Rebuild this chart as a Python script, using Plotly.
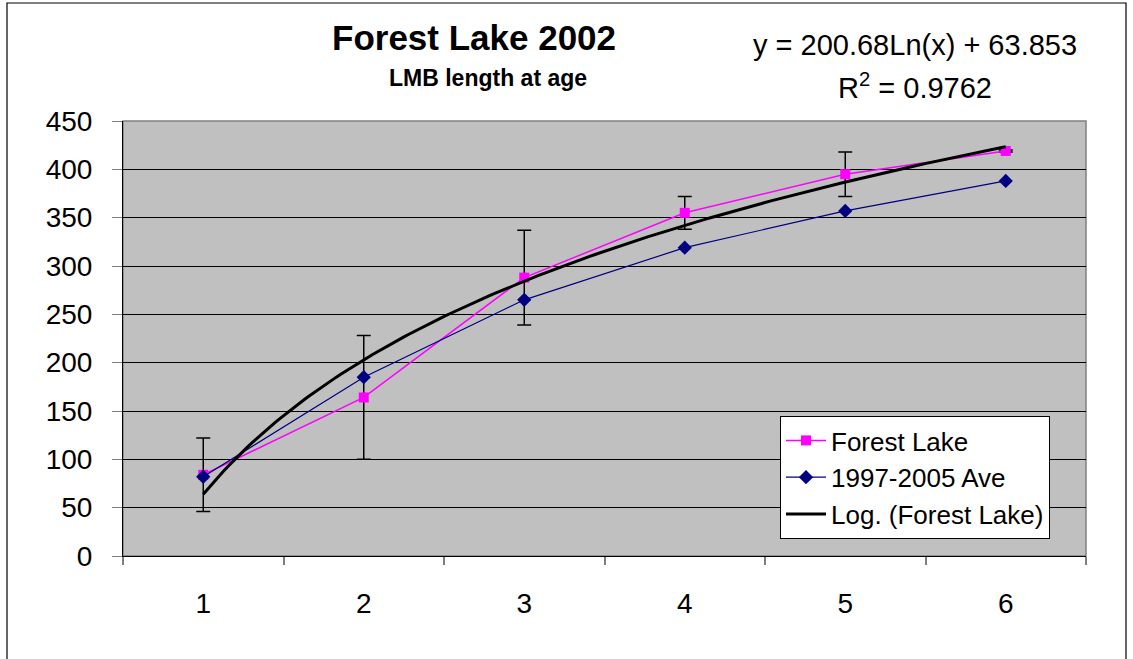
import numpy as np
import plotly.graph_objects as go

# ---------------------------- data ---------------------------- #
ages = [1, 2, 3, 4, 5, 6]
forest_lake = [84, 164, 288, 355, 395, 419]
forest_lake_err = [38, 64, 49, 17, 23, 1]
avg_1997_2005 = [82, 185, 265, 319, 357, 388]

# trendline coefficients as printed on the chart
log_a = 200.68
log_b = 63.853
r_squared = 0.9762

y_ticks = [0, 50, 100, 150, 200, 250, 300, 350, 400, 450]

trend_x = np.linspace(ages[0], ages[-1], 200)
trend_y = log_a * np.log(trend_x) + log_b

FONT = "Liberation Sans, Arial, sans-serif"

# plot area in pixels: left 123, right 1086, top 121, bottom 556
def px(x):
    return (x - 123) / 963

def py(y):
    return (556 - y) / 435

fig = go.Figure()

fig.add_trace(go.Scatter(
    x=ages, y=forest_lake, name="Forest Lake", mode="lines+markers",
    line=dict(color="#FF00FF", width=1.5),
    marker=dict(symbol="square", size=10, color="#FF00FF"),
    error_y=dict(type="data", array=forest_lake_err, visible=True,
                 color="black", thickness=1.5, width=7),
))

fig.add_trace(go.Scatter(
    x=ages, y=avg_1997_2005, name="1997-2005 Ave", mode="lines+markers",
    line=dict(color="#000080", width=1.2),
    marker=dict(symbol="diamond", size=11, color="#000080"),
))

fig.add_trace(go.Scatter(
    x=trend_x, y=trend_y, name="Log. (Forest Lake)", mode="lines",
    line=dict(color="black", width=3),
))

# outer chart border
fig.add_shape(type="rect", xref="paper", yref="paper",
              x0=px(7), x1=px(1126), y0=py(700), y1=py(3),
              line=dict(color="black", width=1.2), layer="below")

# titles and equation
texts = [
    ("<b>Forest Lake 2002</b>", 474, 37, 35),
    ("<b>LMB length at age</b>", 488, 78, 23),
    (f"y = {log_a}Ln(x) + {log_b}", 915, 45, 29),
    (f"R<sup>2</sup> = {r_squared}", 915, 86, 29),
]
for txt, tx, ty, size in texts:
    fig.add_annotation(text=txt, xref="paper", yref="paper",
                       x=px(tx), y=py(ty), xanchor="center", yanchor="middle",
                       showarrow=False,
                       font=dict(size=size, color="black", family=FONT))

fig.update_layout(
    width=1133, height=659,
    margin=dict(l=123, r=47, t=121, b=103),
    paper_bgcolor="white",
    plot_bgcolor="#C0C0C0",
    font=dict(family=FONT, size=28, color="black"),
    showlegend=True,
    legend=dict(
        x=px(780), y=py(416),
        xanchor="left", yanchor="top",
        bgcolor="white", bordercolor="black", borderwidth=1,
        font=dict(size=26, family=FONT, color="black"),
        tracegroupgap=0, itemwidth=40,
    ),
    xaxis=dict(
        range=[0.5, 6.5], tickvals=ages, ticks="", showgrid=False,
        zeroline=False, showline=True, linecolor="black", linewidth=1,
        tickfont=dict(size=28), ticklabelstandoff=22,
        minor=dict(ticks="outside", tick0=0.5, dtick=1, ticklen=8,
                   tickcolor="#808080", tickwidth=1.5, showgrid=False),
    ),
    yaxis=dict(
        range=[0, 450], tickvals=y_ticks, ticks="outside", ticklen=10,
        tickcolor="#808080", showgrid=True, gridcolor="black", gridwidth=1,
        zeroline=False, showline=True, linecolor="black", linewidth=1,
        tickfont=dict(size=28), ticklabelstandoff=14,
    ),
)

# gray right/top border of the plot area
fig.add_shape(type="rect", xref="paper", yref="paper", x0=0, x1=1, y0=0, y1=1,
              line=dict(color="#808080", width=1.5), layer="below")

fig.write_html("out.html", config={"displayModeBar": False},
               post_script="document.body.style.margin='0';")
